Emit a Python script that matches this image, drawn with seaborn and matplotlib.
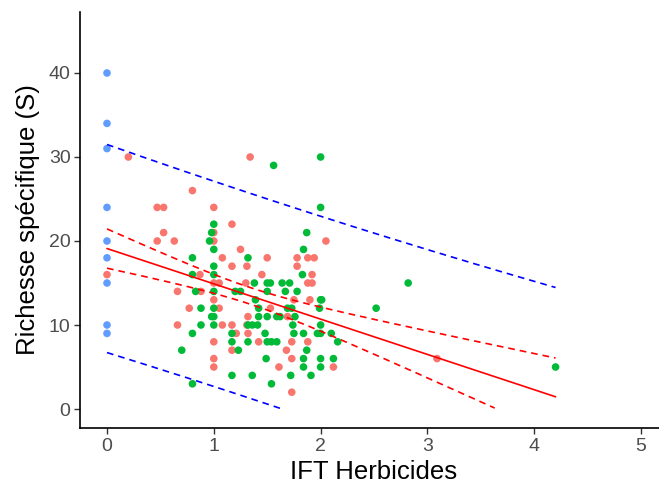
import numpy as np
import pandas as pd
import matplotlib
matplotlib.use("Agg")
import matplotlib.pyplot as plt
import seaborn as sns

# ---- data ----
blue_x = [0, 0, 0, 0, 0, 0, 0, 0, 0]
blue_y = [40, 34, 31, 24, 20, 18, 15, 10, 9]

red_x = [0.0, 0.2, 0.47, 0.53, 0.53, 0.47, 0.63, 0.8, 1.0, 1.34, 1.17, 1.0, 1.0,
         1.25, 1.08, 1.17, 1.31, 1.5, 1.78, 1.88, 1.94, 1.78, 2.05, 1.45, 1.92,
         0.87, 1.0, 1.05, 1.3, 0.66, 0.88, 1.0, 0.77, 1.05, 1.32, 0.66, 1.08,
         1.17, 1.31, 1.21, 1.32, 1.0, 1.17, 1.0, 1.0, 1.88, 1.92, 1.75, 1.9,
         1.53, 1.69, 1.42, 1.73, 1.88, 1.68, 1.73, 1.61, 2.12, 1.73, 3.09]
red_y = [16, 30, 24, 24, 21, 20, 20, 26, 24, 30, 22, 21, 20,
         19, 18, 17, 17, 18, 18, 18, 18, 17, 20, 16, 16,
         16, 15, 15, 15, 14, 14, 13, 12, 12, 11, 10, 10,
         10, 10, 9, 9, 8, 7, 6, 5, 15, 15, 13, 13,
         12, 11, 8, 8, 8, 7, 6, 5, 5, 2, 6]

green_x = [1.0, 0.98, 0.96, 1.0, 0.8, 1.0, 1.32, 0.8, 1.0, 1.56, 2.0, 2.0, 1.87,
           1.84, 1.83, 0.83, 1.0, 1.2, 1.25, 0.88, 1.0, 0.98, 1.0, 0.88, 1.0,
           1.32, 0.8, 1.17, 1.17, 1.32, 0.7, 1.23, 1.17, 0.8,
           1.38, 1.5, 1.53, 1.64, 1.71, 1.5, 1.67, 1.78, 1.39, 2.0, 2.01,
           1.42, 1.69, 1.73, 1.99, 1.42, 1.5, 1.59, 1.62, 1.76,
           1.36, 1.41, 1.74, 2.0, 1.48, 1.75, 1.84, 1.97, 2.0, 2.1,
           1.5, 1.54, 1.59, 2.16, 1.87, 1.49, 1.84, 2.0, 2.12, 1.84, 2.0,
           1.36, 1.72, 1.91, 1.54, 2.82, 2.52, 4.2]
green_y = [22, 21, 20, 19, 18, 17, 18, 16, 16, 29, 30, 24, 21,
           19, 16, 14, 14, 14, 14, 12, 12, 11, 11, 10, 10,
           10, 9, 9, 8, 8, 7, 7, 4, 3,
           15, 15, 15, 15, 15, 14, 14, 14, 13, 13, 13,
           12, 12, 12, 12, 11, 11, 11, 11, 11,
           10, 10, 10, 10, 9, 9, 9, 9, 9, 9,
           8, 8, 8, 8, 7, 6, 6, 6, 6, 5, 5,
           4, 4, 4, 3, 15, 12, 5]

groups = ["A", "B", "C"]
colors = {"A": "#F8766D", "B": "#00BA38", "C": "#619CFF"}

df = pd.concat([
    pd.DataFrame({"x": red_x, "y": red_y, "g": "A"}),
    pd.DataFrame({"x": green_x, "y": green_y, "g": "B"}),
    pd.DataFrame({"x": blue_x, "y": blue_y, "g": "C"}),
], ignore_index=True)

# ---- linear model with confidence and prediction intervals (all points) ----
X = df["x"].to_numpy(float)
Y = df["y"].to_numpy(float)
n = len(X)
b, a = np.polyfit(X, Y, 1)
resid = Y - (a + b * X)
s = np.sqrt(np.sum(resid ** 2) / (n - 2))
xm = X.mean()
sxx = np.sum((X - xm) ** 2)
tval = 1.976
xg = np.linspace(X.min(), X.max(), 200)
yg = a + b * xg
se_fit = s * np.sqrt(1.0 / n + (xg - xm) ** 2 / sxx)
se_pred = s * np.sqrt(1 + 1.0 / n + (xg - xm) ** 2 / sxx)

def clip(v):
    v = v.copy()
    v[v < 0] = np.nan
    return v

# ---- figure ----
sns.set_theme(style="ticks")
plt.rcParams["font.family"] = ["Liberation Sans", "DejaVu Sans"]

fig = plt.figure(figsize=(6.59, 4.86), dpi=100)
ax = fig.add_axes([80.3 / 659, (486 - 427.9) / 486, 587.4 / 659, 415.8 / 486])

sns.scatterplot(data=df, x="x", y="y", hue="g", palette=colors, hue_order=groups,
                s=30, linewidth=0, legend=False, ax=ax, zorder=2)

ax.plot(xg, yg, color="#FF0000", lw=1.2, zorder=3)
ax.plot(xg, clip(yg + tval * se_fit), color="#FF0000", lw=1.2, dashes=(4, 3), zorder=3)
ax.plot(xg, clip(yg - tval * se_fit), color="#FF0000", lw=1.2, dashes=(4, 3), zorder=3)
ax.plot(xg, clip(yg + tval * se_pred), color="#0000FF", lw=1.2, dashes=(4, 3), zorder=3)
ax.plot(xg, clip(yg - tval * se_pred), color="#0000FF", lw=1.2, dashes=(4, 3), zorder=3)

ax.set_xlim(-0.25, 5.25)
ax.set_ylim(-2.25, 47.25)
ax.set_xticks([0, 1, 2, 3, 4, 5])
ax.set_yticks([0, 10, 20, 30, 40])
ax.set_xlabel("IFT Herbicides", fontsize=18.5, color="black", labelpad=4)
ax.set_ylabel("Richesse spécifique (S)", fontsize=18.5, color="black", labelpad=6)
ax.tick_params(axis="both", which="both", direction="out", length=4, width=1,
               color="#333333", labelcolor="#4D4D4D", labelsize=14, pad=3,
               top=False, right=False)
for side in ["top", "right"]:
    ax.spines[side].set_visible(False)
for side in ["left", "bottom"]:
    ax.spines[side].set_linewidth(1.2)
    ax.spines[side].set_color("black")
ax.grid(False)
ax.set_facecolor("white")
fig.patch.set_facecolor("white")

fig.savefig("out.png", dpi=100, facecolor="white")
